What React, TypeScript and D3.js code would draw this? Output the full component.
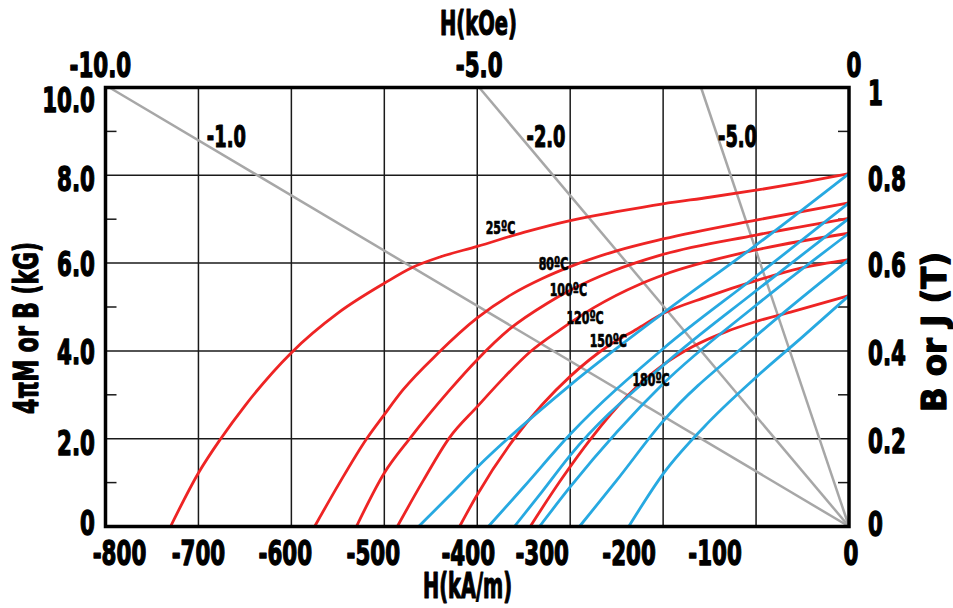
import React from 'react';
import * as d3 from 'd3';

const W = 953;
const HGT = 608;
const FONT = "'DejaVu Sans Condensed', 'Liberation Sans Narrow', 'DejaVu Sans', sans-serif";

// intrinsic curves 4πM (kG) vs H (kA/m), one per temperature
const j25 = [[-730, 0], [-700, 1.22], [-676, 2.0], [-650, 2.75], [-600, 3.96], [-550, 4.86], [-500, 5.54], [-470, 5.9], [-440, 6.14], [-400, 6.38], [-350, 6.7], [-300, 6.97], [-250, 7.17], [-200, 7.35], [-150, 7.5], [-100, 7.66], [-50, 7.84], [0, 8.04]];
const j80 = [[-575, 0], [-548, 1.0], [-519, 2.0], [-500, 2.55], [-480, 3.11], [-442, 3.95], [-400, 4.75], [-362, 5.3], [-330, 5.65], [-300, 5.92], [-250, 6.28], [-200, 6.55], [-100, 6.98], [0, 7.37]];
const j100 = [[-530, 0], [-500, 1.22], [-472, 2.02], [-430, 3.1], [-400, 3.8], [-365, 4.5], [-325, 5.08], [-300, 5.38], [-254, 5.82], [-200, 6.2], [-100, 6.64], [0, 7.02]];
const j120 = [[-486, 0], [-458, 1.05], [-430, 2.02], [-400, 2.73], [-370, 3.42], [-343, 3.98], [-311, 4.48], [-275, 4.98], [-225, 5.52], [-200, 5.73], [-100, 6.3], [0, 6.68]];
const j150 = [[-419, 0], [-401, 0.69], [-361, 1.98], [-330, 2.78], [-300, 3.42], [-260, 4.1], [-228, 4.5], [-200, 4.85], [-153, 5.23], [-100, 5.6], [-53, 5.88], [0, 6.08]];
const j180 = [[-343, 0], [-311, 1.03], [-277, 2.02], [-239, 2.96], [-200, 3.68], [-168, 4.1], [-132, 4.44], [-100, 4.67], [-60, 4.9], [0, 5.26]];

// normal curves B (kG) vs H (kA/m)
const b25 = [[-463, 0], [-430, 0.7], [-400, 1.35], [-300, 3.22], [-200, 4.86], [-100, 6.41], [0, 8.04]];
const b80 = [[-388, 0], [-350, 0.9], [-300, 2.1], [-200, 4.05], [-100, 5.7], [0, 7.37]];
const b100 = [[-360, 0], [-330, 0.8], [-300, 1.62], [-200, 3.67], [-100, 5.37], [0, 7.02]];
const b120 = [[-333, 0], [-300, 0.9], [-200, 3.25], [-100, 5.04], [0, 6.68]];
const b150 = [[-290, 0], [-250, 1.05], [-200, 2.4], [-100, 4.34], [0, 6.08]];
const b180 = [[-237, 0], [-200, 1.2], [-150, 2.4], [-100, 3.4], [-50, 4.32], [0, 5.26]];

const temps = ['25ºC', '80ºC', '100ºC', '120ºC', '150ºC', '180ºC'];
const tempLabelAt = [[-375, 6.82], [-318, 6.0], [-302, 5.41], [-284, 4.77], [-259, 4.23], [-213, 3.35]];

// permeance (load) lines: label, H at 10 kG
const permLabels = ['-1.0', '-2.0', '-5.0'];
const permEnds = [-795.8, -397.9, -159.2];
const permLabelAt = [[-670, 8.9], [-326, 8.9], [-120, 8.9]];

const hTicks = [-800, -700, -600, -500, -400, -300, -200, -100, 0];
const hNudge = [14, 0, -6, -11, -9, -28, -34, -41, 2];
const kgTicks = [0, 2, 4, 6, 8, 10];
const kgLabels = ['0', '2.0', '4.0', '6.0', '8.0', '10.0'];
const kgNudge = [-4, 4, 1.5, 1, 3.6, 12.5];
const tTicks = [0, 0.2, 0.4, 0.6, 0.8, 1];
const tLabels = ['0', '0.2', '0.4', '0.6', '0.8', '1'];
const tNudge = [-3, 2, 2, 2, 4, 5.5];
const koeTicks = [-10, -5, 0];
const koeLabels = ['-10.0', '-5.0', '0'];
const koeNudge = [-9, 0, 5];
const minorKg = [1, 3, 5, 7, 9];

const RED = '#ee2424';
const BLUE = '#27a9e1';
const GRAY = '#a7a7a7';

type LabelProps = {
  x: number;
  y: number;
  size: number;
  anchor?: 'start' | 'middle' | 'end';
  sx?: number;
  rot?: number;
  sw?: number;
  children: React.ReactNode;
};

// condensed heavy text: squeeze the font horizontally around its anchor
function Label({ x, y, size, anchor = 'middle', sx = 0.7, rot = 0, sw = 1.3, children }: LabelProps) {
  return (
    <text
      transform={`translate(${x},${y}) rotate(${rot}) scale(${sx},1)`}
      textAnchor={anchor}
      fontSize={size}
      fontFamily={FONT}
      fontWeight={700}
      fill="#000"
      stroke="#000"
      strokeWidth={sw}
      strokeLinejoin="round"
    >
      {children}
    </text>
  );
}

export default function App() {
  const x = d3.scaleLinear().domain([-800, 0]).range([105.5, 849]);
  const y = d3.scaleLinear().domain([0, 10]).range([526.5, 87.5]);
  const t = d3.scaleLinear().domain([0, 1]).range([526.5, 87.5]);
  const koe = d3.scaleLinear().domain([-10, 0]).range([x(-795.8), x(0)]);

  const line = d3.line<number[]>()
    .x((d) => x(d[0]))
    .y((d) => y(d[1]))
    .curve(d3.curveMonotoneX);

  const jCurves = [j25, j80, j100, j120, j150, j180];
  const bCurves = [b25, b80, b100, b120, b150, b180];

  const [x0, x1] = x.range();
  const [yb, yt] = y.range();

  const title = { fontFamily: FONT, fontWeight: 700, stroke: '#000', strokeWidth: 1.2, strokeLinejoin: 'round' } as const;

  return (
    <svg width={W} height={HGT} style={{ position: 'absolute', left: 0, top: 0, background: '#fff' }}>
      {/* grid */}
      <g stroke="#1a1a1a" strokeWidth={1.5}>
        {hTicks.slice(1, -1).map((h) => (
          <line key={'v' + h} x1={x(h)} x2={x(h)} y1={yt} y2={yb} />
        ))}
        {kgTicks.slice(1, -1).map((v) => (
          <line key={'h' + v} x1={x0} x2={x1} y1={y(v)} y2={y(v)} />
        ))}
      </g>
      {/* minor ticks */}
      <g stroke="#1a1a1a" strokeWidth={1.5}>
        {minorKg.map((v) => (
          <React.Fragment key={'m' + v}>
            <line x1={x0} x2={x0 + 11} y1={y(v)} y2={y(v)} />
            <line x1={x1 - 11} x2={x1} y1={y(v)} y2={y(v)} />
          </React.Fragment>
        ))}
      </g>
      {/* permeance lines */}
      <g stroke={GRAY} strokeWidth={2.5}>
        {permEnds.map((h, i) => (
          <line key={'p' + i} x1={x(0)} y1={y(0)} x2={x(h)} y2={y(10)} />
        ))}
      </g>
      {/* J curves */}
      <g fill="none" stroke={RED} strokeWidth={2.8}>
        {jCurves.map((c, i) => (
          <path key={'j' + i} d={line(c) || ''} />
        ))}
      </g>
      {/* B curves */}
      <g fill="none" stroke={BLUE} strokeWidth={2.8}>
        {bCurves.map((c, i) => (
          <path key={'b' + i} d={line(c) || ''} />
        ))}
      </g>
      {/* frame */}
      <rect x={x0} y={yt} width={x1 - x0} height={yb - yt} fill="none" stroke="#000" strokeWidth={3.5} />

      {/* temperature labels */}
      {temps.map((s, i) => (
        <Label key={s} x={x(tempLabelAt[i][0])} y={y(tempLabelAt[i][1]) + 6.5} size={18} sx={0.68} sw={0.7}>{s}</Label>
      ))}
      {/* permeance labels */}
      {permLabels.map((s, i) => (
        <Label key={s} x={x(permLabelAt[i][0])} y={y(permLabelAt[i][1]) + 11} size={30} sx={0.66} sw={1.1}>{s}</Label>
      ))}

      {/* bottom axis */}
      {hTicks.map((h, i) => (
        <Label key={'bt' + h} x={x(h) + hNudge[i]} y={565} size={34}>{h}</Label>
      ))}
      <text x={467.5} y={598} fontSize={36} {...title} textAnchor="middle"
        textLength={89} lengthAdjust="spacingAndGlyphs">H(kA/m)</text>

      {/* top axis */}
      {koeTicks.map((k, i) => (
        <Label key={'tt' + k} x={koe(k) + koeNudge[i]} y={77} size={34}>{koeLabels[i]}</Label>
      ))}
      <text x={478.5} y={35} fontSize={34} {...title} textAnchor="middle"
        textLength={77} lengthAdjust="spacingAndGlyphs">H(kOe)</text>

      {/* left axis */}
      {kgTicks.map((v, i) => (
        <Label key={'lt' + v} x={95} y={y(v) + kgNudge[i] + 12} size={34} anchor="end">{kgLabels[i]}</Label>
      ))}
      <text transform="translate(38,328) rotate(-90)" fontSize={34} {...title} textAnchor="middle"
        textLength={172} lengthAdjust="spacingAndGlyphs">
        4πM or B (kG)
      </text>

      {/* right axis */}
      {tTicks.map((v, i) => (
        <Label key={'rt' + v} x={868} y={t(v) + tNudge[i] + 12} size={34} anchor="start">{tLabels[i]}</Label>
      ))}
      <text transform="translate(946,332) rotate(-90)" fontSize={34} {...title} textAnchor="middle"
        textLength={160} lengthAdjust="spacingAndGlyphs">
        B or J (T)
      </text>
    </svg>
  );
}
